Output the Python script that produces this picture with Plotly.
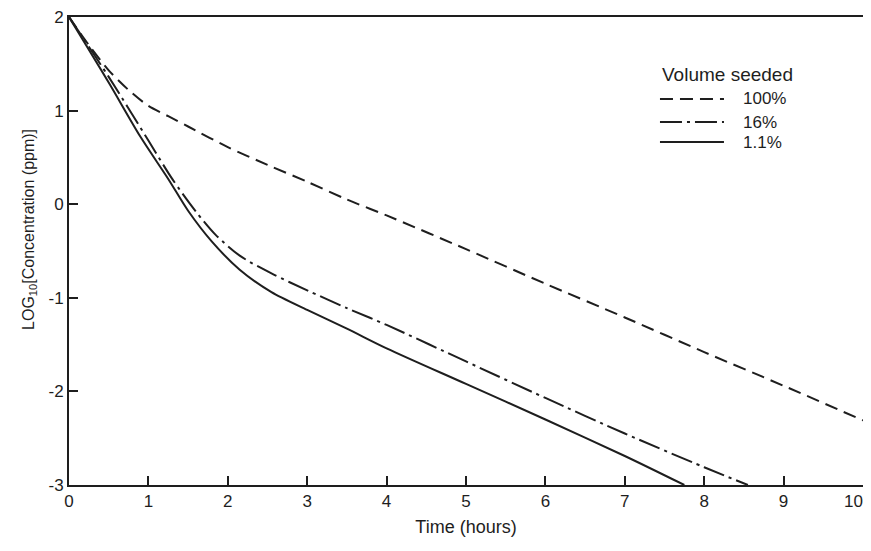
import plotly.graph_objects as go

# Data
time_100 = [0, 0.25, 0.5, 0.75, 1.0, 1.25, 1.5, 2.0, 2.5, 3.0, 3.5, 4.0, 5.0, 6.0, 7.0, 8.0, 9.0, 10.0]
log_100 = [2.0, 1.70, 1.43, 1.22, 1.05, 0.94, 0.83, 0.61, 0.42, 0.24, 0.05, -0.12, -0.48, -0.85, -1.21, -1.58, -1.94, -2.31]

time_16 = [0, 0.5, 1.0, 1.3, 1.6, 1.85, 2.15, 2.55, 3.0, 3.5, 4.0, 5.0, 6.0, 7.0, 8.0, 8.55]
log_16 = [2.0, 1.36, 0.68, 0.27, -0.08, -0.33, -0.55, -0.74, -0.92, -1.11, -1.29, -1.68, -2.07, -2.45, -2.81, -3.0]

time_11 = [0, 0.5, 0.9, 1.25, 1.5, 1.8, 2.15, 2.55, 3.0, 3.5, 4.0, 5.0, 6.0, 7.0, 7.75]
log_11 = [2.0, 1.30, 0.72, 0.27, -0.07, -0.40, -0.70, -0.94, -1.13, -1.33, -1.54, -1.92, -2.30, -2.69, -3.0]

x_ticks = list(range(0, 11))
# trailing non-breaking spaces pull the last label left so it stays inside the page edge
x_tick_text = [str(v) for v in x_ticks[:-1]] + ["10" + "\u00a0" * 4]
y_ticks = [-3, -2, -1, 0, 1, 2]
y_tick_text = ["-3", "-2", "-1", "0", "1", "2"]

series_names = ["100%", "16%", "1.1%"]
series_dashes = ["13px,7px", "22px,5px,3px,5px", "solid"]
legend_title = "Volume seeded"
x_title = "Time (hours)"
y_title = "LOG<sub>10</sub>[Concentration (ppm)]"

ink = "#1e1e1e"
font_family = "Liberation Sans, Arial, sans-serif"

fig = go.Figure()
for xs, ys, name, dash in zip([time_100, time_16, time_11], [log_100, log_16, log_11],
                              series_names, series_dashes):
    fig.add_trace(go.Scatter(x=xs, y=ys, mode="lines", name=name, showlegend=False,
                             line=dict(color=ink, width=2, dash=dash, shape="spline", smoothing=0.8)))

# Hand-built legend box (the page body adds an 8px offset to the figure)
legend_rows_y = [0.8248, 0.7756, 0.7329]
sample_x0, sample_x1, label_x = 0.7443, 0.8249, 0.8463
fig.add_annotation(text=legend_title, xref="paper", yref="paper",
                   x=0.7443, y=0.8761, xanchor="left", yanchor="middle",
                   showarrow=False, font=dict(size=19, color=ink))
for row_y, name, dash in zip(legend_rows_y, series_names, series_dashes):
    fig.add_shape(type="line", xref="paper", yref="paper",
                  x0=sample_x0, x1=sample_x1, y0=row_y, y1=row_y,
                  line=dict(color=ink, width=2, dash=dash))
    fig.add_annotation(text=name, xref="paper", yref="paper",
                       x=label_x, y=row_y, xanchor="left", yanchor="middle",
                       showarrow=False, font=dict(size=17, color=ink))

fig.add_annotation(text=y_title, xref="paper", yref="paper", textangle=-90,
                   x=-0.0491, y=0.545, xanchor="center", yanchor="middle",
                   showarrow=False, font=dict(size=16, color=ink))

fig.update_layout(
    width=863, height=543,
    margin=dict(l=61, r=8, t=9, b=66),
    paper_bgcolor="white", plot_bgcolor="white",
    font=dict(family=font_family, size=16, color=ink),
    showlegend=False,
    xaxis=dict(
        range=[0, 10], tickvals=x_ticks, ticktext=x_tick_text, ticks="inside", ticklen=9, tickwidth=1.5,
        tickcolor=ink, showline=True, linecolor=ink, linewidth=2, mirror=True, showgrid=False,
        zeroline=False, tickfont=dict(size=17, color=ink), automargin=False, ticklabeloverflow="allow",
        title=dict(text=x_title, font=dict(size=18, color=ink), standoff=10),
    ),
    yaxis=dict(
        range=[-3, 2], tickvals=y_ticks, ticktext=y_tick_text, ticks="inside", ticklen=9, tickwidth=1.5,
        tickcolor=ink, showline=True, linecolor=ink, linewidth=2, mirror=True, showgrid=False,
        zeroline=False, tickfont=dict(size=17, color=ink), automargin=False, ticklabeloverflow="allow",
    ),
)

fig.write_html("out.html")
